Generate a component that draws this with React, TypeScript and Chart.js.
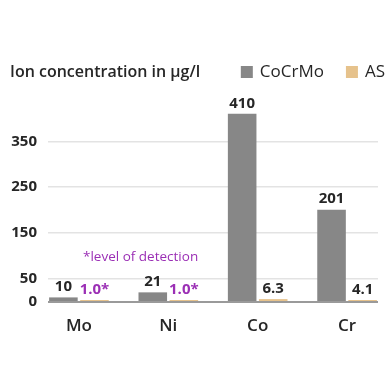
import React, { useEffect, useRef } from "react";
import { Chart, registerables } from "chart.js";

Chart.register(...registerables);

const categories = ["Mo", "Ni", "Co", "Cr"];
const cocrmoValues = [10, 21, 410, 201];
const asValues = [1.0, 1.0, 6.3, 4.1];
const cocrmoLabels = ["10", "21", "410", "201"];
const asLabels = ["1.0*", "1.0*", "6.3", "4.1"];
const asBelowDetection = [true, true, false, false];
const yTicks = [0, 50, 150, 250, 350];
const seriesNames = ["CoCrMo", "AS"];
const titleText = "Ion concentration in µg/l";
const noteText = "*level of detection";

const GRAY = "#878787";
const TAN = "#e6c28c";
const PURPLE = "#9b2fb5";
const TEXT = "#262626";
const FONT = '"Open Sans", sans-serif';
const X_MIN = -0.346;
const X_MAX = 3.346;

export default function App() {
  const ref = useRef<HTMLCanvasElement | null>(null);

  useEffect(() => {
    document.body.style.margin = "0";
    const canvas = ref.current;
    if (!canvas) return;

    const overlay = {
      id: "overlay",
      afterDatasetsDraw(chart: any) {
        const ctx = chart.ctx;
        ctx.save();
        ctx.textAlign = "center";
        ctx.textBaseline = "bottom";
        ctx.font = `700 15px ${FONT}`;
        chart.getDatasetMeta(0).data.forEach((el: any, i: number) => {
          ctx.fillStyle = TEXT;
          ctx.fillText(cocrmoLabels[i], el.x, el.y - 3);
        });
        chart.getDatasetMeta(1).data.forEach((el: any, i: number) => {
          ctx.fillStyle = asBelowDetection[i] ? PURPLE : TEXT;
          ctx.fillText(asLabels[i], el.x, el.y - 3);
        });
        const xs = chart.scales.x;
        const ys = chart.scales.y;
        ctx.fillStyle = PURPLE;
        ctx.font = `500 13.5px ${FONT}`;
        ctx.textBaseline = "middle";
        ctx.fillText(noteText, xs.getPixelForValue(0.69), ys.getPixelForValue(97));
        ctx.restore();
      },
      afterDraw(chart: any) {
        const ctx = chart.ctx;
        ctx.save();
        ctx.textBaseline = "middle";
        ctx.fillStyle = TEXT;
        ctx.font = `600 16px ${FONT}`;
        ctx.textAlign = "left";
        const cy = 72;
        ctx.fillText(titleText, 10, cy);
        const colors = [GRAY, TAN];
        const box = 12;
        const gapBoxText = 7;
        const gapItems = 22;
        ctx.font = `500 17px ${FONT}`;
        let total = 0;
        seriesNames.forEach((n, i) => {
          total += box + gapBoxText + ctx.measureText(n).width + (i < seriesNames.length - 1 ? gapItems : 0);
        });
        let x = chart.width - 6 - total;
        seriesNames.forEach((n, i) => {
          ctx.fillStyle = colors[i];
          ctx.fillRect(x, cy - box / 2, box, box);
          x += box + gapBoxText;
          ctx.fillStyle = TEXT;
          ctx.fillText(n, x, cy);
          x += ctx.measureText(n).width + gapItems;
        });
        ctx.restore();
      },
    };

    const chart = new Chart(canvas, {
      type: "bar",
      data: {
        datasets: [
          {
            label: seriesNames[0],
            data: cocrmoValues.map((v, i) => ({ x: i, y: v })),
            backgroundColor: GRAY,
          },
          {
            label: seriesNames[1],
            data: asValues.map((v, i) => ({ x: i, y: v })),
            backgroundColor: TAN,
            minBarLength: 2,
          },
        ],
      },
      options: {
        animation: false,
        responsive: true,
        maintainAspectRatio: false,
        categoryPercentage: 0.695,
        barPercentage: 0.92,
        layout: { padding: { top: 100, right: 13, left: 0, bottom: 0 } },
        plugins: {
          legend: { display: false },
          tooltip: { enabled: false },
          title: { display: false },
        },
        scales: {
          x: {
            type: "linear",
            offset: false,
            bounds: "data",
            min: X_MIN,
            max: X_MAX,
            grid: { display: false, drawTicks: false, offset: false },
            border: { display: false },
            afterBuildTicks: (axis: any) => {
              axis.ticks = categories.map((_, i) => ({ value: i }));
            },
            afterFit: (axis: any) => {
              axis.height = 87;
            },
            ticks: {
              autoSkip: false,
              maxRotation: 0,
              includeBounds: false,
              padding: 14,
              color: TEXT,
              font: { family: FONT, size: 17, weight: "600" },
              callback: (v: any) => categories[Math.round(Number(v))] ?? "",
            },
          },
          y: {
            min: 0,
            max: 440,
            afterBuildTicks: (axis: any) => {
              axis.ticks = yTicks.map((v) => ({ value: v }));
            },
            afterFit: (axis: any) => {
              axis.width = 48;
            },
            border: { display: false },
            grid: {
              drawTicks: false,
              color: (c: any) => (c.tick && c.tick.value === 0 ? "#9a9a9a" : "#e3e3e3"),
              lineWidth: (c: any) => (c.tick && c.tick.value === 0 ? 2 : 1.5),
            },
            ticks: {
              padding: 11,
              color: TEXT,
              font: { family: FONT, size: 15, weight: "700" },
            },
          },
        },
      },
      plugins: [overlay],
    } as any);

    return () => chart.destroy();
  }, []);

  return (
    <div style={{ width: 391, height: 389, position: "relative", background: "#fff" }}>
      <canvas ref={ref} />
    </div>
  );
}
